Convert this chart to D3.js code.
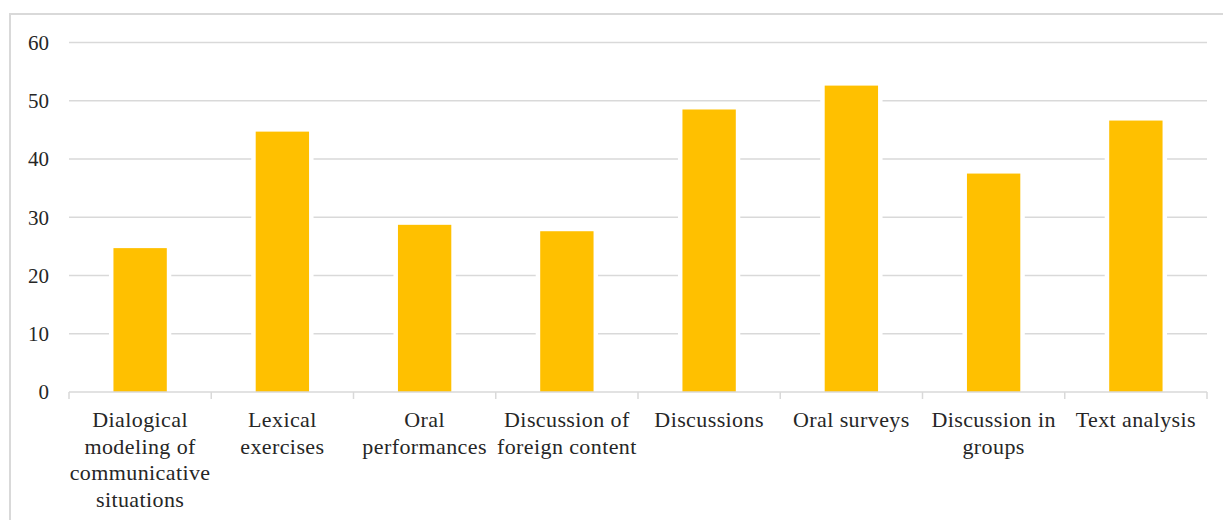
<!DOCTYPE html>
<html>
<head>
<meta charset="utf-8">
<script src="https://cdn.jsdelivr.net/npm/d3@7"></script>
<style>
	body { margin: 0; background: #fff; }
	svg { display: block; }
</style>
</head>
<body>
<svg id="chart" width="1223" height="520"></svg>
<script>
// chart data
let categories = [
	['Dialogical', 'modeling of', 'communicative', 'situations'],
	['Lexical', 'exercises'],
	['Oral', 'performances'],
	['Discussion of', 'foreign content'],
	['Discussions'],
	['Oral surveys'],
	['Discussion in', 'groups'],
	['Text analysis']
];
let values = [24.7, 44.7, 28.7, 27.6, 48.5, 52.6, 37.5, 46.6];
let yTicks = [0, 10, 20, 30, 40, 50, 60];

let font = "'Liberation Serif', 'Times New Roman', 'DejaVu Serif', serif";
let svg = d3.select('#chart');
let mLeft = 69, mRight = 1207, mTop = 42.5, mBottom = 392;

// outer frame
svg.append('rect').attr('x', 10).attr('y', 14).attr('width', 1240).attr('height', 540)
	.style('fill', 'none').style('stroke', '#d9d9d9').style('stroke-width', 2);

let x = d3.scaleBand().domain(d3.range(values.length)).range([mLeft, mRight]).paddingInner(0.625).paddingOuter(0.3125);
let xc = d3.scaleBand().domain(d3.range(values.length)).range([mLeft, mRight]);
let y = d3.scaleLinear().domain([0, 60]).range([mBottom, mTop]);

// gridlines
svg.append('g').selectAll('line').data(yTicks.slice(1)).join('line')
	.attr('x1', mLeft).attr('x2', mRight)
	.attr('y1', d => y(d)).attr('y2', d => y(d))
	.style('stroke', '#d9d9d9').style('stroke-width', 1.5);

// y tick labels
svg.append('g').selectAll('text').data(yTicks).join('text')
	.attr('x', 49).attr('y', d => y(d)).attr('dy', '0.35em')
	.attr('text-anchor', 'end')
	.style('font-family', font).style('font-size', '21px').style('fill', '#262626')
	.text(d => d);

// bars (white stroke gives the gap in the gridlines)
svg.append('g').selectAll('rect').data(values).join('rect')
	.attr('x', (d, i) => x(i)).attr('width', x.bandwidth())
	.attr('y', d => y(d)).attr('height', d => y(0) - y(d))
	.style('fill', '#ffc000').style('stroke', '#fff').style('stroke-width', 9)
	.style('paint-order', 'stroke');

// x axis line and ticks
svg.append('line').attr('x1', mLeft).attr('x2', mRight).attr('y1', mBottom).attr('y2', mBottom)
	.style('stroke', '#d9d9d9').style('stroke-width', 1.5);
let edges = d3.range(values.length).map(i => xc(i)).concat([mRight]);
svg.append('g').selectAll('line').data(edges).join('line')
	.attr('x1', d => d).attr('x2', d => d).attr('y1', mBottom).attr('y2', mBottom + 7)
	.style('stroke', '#d9d9d9').style('stroke-width', 1.5);

// category labels
let lab = svg.append('g').selectAll('text').data(categories).join('text')
	.attr('x', (d, i) => xc(i) + xc.bandwidth() / 2)
	.attr('y', 427)
	.attr('text-anchor', 'middle')
	.style('font-family', font).style('font-size', '22px').style('letter-spacing', '0.4px').style('fill', '#262626');
lab.selectAll('tspan').data(d => d).join('tspan')
	.attr('x', function() { return d3.select(this.parentNode).attr('x'); })
	.attr('dy', (d, i) => i == 0 ? 0 : 26.7)
	.text(d => d);
</script>
</body>
</html>
